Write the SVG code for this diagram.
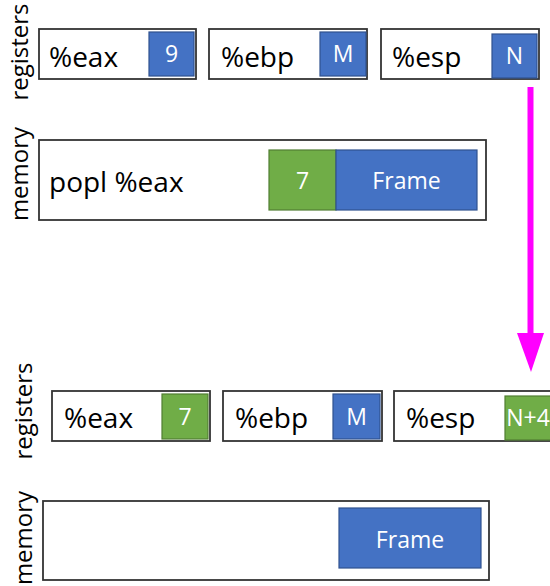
<svg xmlns="http://www.w3.org/2000/svg" width="550" height="586" viewBox="0 0 550 586">
  <style>
    .box { fill: #ffffff; stroke: #333333; stroke-width: 1.8; }
    .blue { fill: #4472C4; stroke: #2F528F; stroke-width: 1.2; }
    .green { fill: #70AD47; stroke: #507E32; stroke-width: 1.2; }
    .lbl { font-family: "Open Sans", "Liberation Sans", sans-serif; font-size: 28px; fill: #000000; }
    .val { font-family: "Open Sans", "Liberation Sans", sans-serif; font-size: 23px; fill: #ffffff; text-anchor: middle; }
    .side { font-family: "Open Sans", "Liberation Sans", sans-serif; font-size: 24px; fill: #000000; text-anchor: middle; }
    .arrow { fill: #FF00FF; }
  </style>
  <rect width="550" height="586" fill="#ffffff"/>

  <!-- side labels -->
  <g id="side-labels">
    <text class="side" transform="translate(28,52) rotate(-90)">registers</text>
    <text class="side" transform="translate(28,174) rotate(-90)">memory</text>
    <text class="side" transform="translate(32,411) rotate(-90)">registers</text>
    <text class="side" transform="translate(32,538) rotate(-90)">memory</text>
  </g>

  <!-- before: registers -->
  <g id="eax-before">
    <rect class="box" x="39" y="29" width="157" height="50"/>
    <text class="lbl" x="49" y="67">%eax</text>
    <rect class="blue" x="149" y="32" width="45" height="44"/>
    <text class="val" x="171.5" y="62">9</text>
  </g>
  <g id="ebp-before">
    <rect class="box" x="209" y="29" width="158" height="50"/>
    <text class="lbl" x="221" y="67">%ebp</text>
    <rect class="blue" x="320" y="32" width="46" height="44"/>
    <text class="val" x="343" y="62">M</text>
  </g>
  <g id="esp-before">
    <rect class="box" x="381" y="29" width="158" height="50"/>
    <text class="lbl" x="392" y="67">%esp</text>
    <rect class="blue" x="492" y="34" width="45" height="44"/>
    <text class="val" x="514.5" y="64">N</text>
  </g>

  <!-- before: memory -->
  <g id="memory-before">
    <rect class="box" x="39" y="140" width="447" height="80"/>
    <text class="lbl" x="49" y="192">popl %eax</text>
    <rect class="green" x="269" y="150" width="67" height="60"/>
    <text class="val" x="302.5" y="189">7</text>
    <rect class="blue" x="336" y="150" width="141" height="60"/>
    <text class="val" x="406.5" y="189">Frame</text>
  </g>

  <!-- transition arrow -->
  <g id="connectors">
    <rect class="arrow" x="527.5" y="87" width="6" height="249"/>
    <polygon class="arrow" points="517,333 544,333 531,372"/>
  </g>

  <!-- after: registers -->
  <g id="eax-after">
    <rect class="box" x="52" y="391" width="158" height="50"/>
    <text class="lbl" x="64" y="428">%eax</text>
    <rect class="green" x="162" y="394" width="46" height="45"/>
    <text class="val" x="185" y="425">7</text>
  </g>
  <g id="ebp-after">
    <rect class="box" x="223" y="391" width="159" height="50"/>
    <text class="lbl" x="235" y="428">%ebp</text>
    <rect class="blue" x="333" y="394" width="47" height="45"/>
    <text class="val" x="356.5" y="425">M</text>
  </g>
  <g id="esp-after">
    <rect class="box" x="394" y="391" width="160" height="50"/>
    <text class="lbl" x="406" y="428">%esp</text>
    <rect class="green" x="505" y="396" width="50" height="44"/>
    <text class="val" x="528" y="426">N+4</text>
  </g>

  <!-- after: memory -->
  <g id="memory-after">
    <rect class="box" x="43" y="501" width="446" height="79"/>
    <rect class="blue" x="339" y="508" width="142" height="60"/>
    <text class="val" x="410" y="548">Frame</text>
  </g>
</svg>
